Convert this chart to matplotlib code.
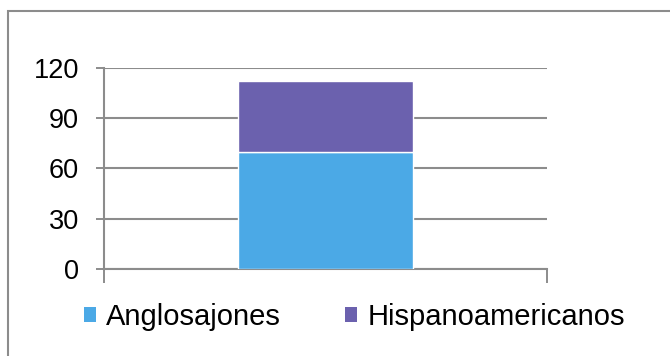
import matplotlib
matplotlib.use("Agg")
import matplotlib.pyplot as plt
from matplotlib.patches import Patch, Rectangle

plt.rcParams['font.family'] = ['Liberation Sans', 'DejaVu Sans']

categories = [""]
anglosajones = [70]
hispanoamericanos = [42]
series_names = ["Anglosajones", "Hispanoamericanos"]
colors = ["#4BA9E6", "#6B61AE"]
y_ticks = [0, 30, 60, 90, 120]
grid_color = "#8C8C8C"

fig = plt.figure(figsize=(6.7, 3.56), dpi=100)
ax = fig.add_axes([0.1552, 0.2444, 0.8164 - 0.1552, 0.8098 - 0.2444])

x = list(range(len(categories)))
ax.bar(x, anglosajones, width=0.395, color=colors[0], edgecolor="white", linewidth=1, zorder=3)
ax.bar(x, hispanoamericanos, width=0.395, bottom=anglosajones, color=colors[1],
       edgecolor="white", linewidth=1, zorder=3)

ax.set_xlim(-0.5, 0.5)
ax.set_ylim(0, 120)
ax.set_yticks(y_ticks)
ax.set_xticks([-0.5, 0.5])
ax.set_xticklabels([])
ax.tick_params(axis='y', length=6, width=1.4, color=grid_color, labelsize=19.5, pad=12)
ax.tick_params(axis='x', length=10, width=1.4, color=grid_color)
ax.yaxis.grid(True, color=grid_color, linewidth=1.5, zorder=0)
ax.set_axisbelow(True)
for s in ['top', 'right']:
    ax.spines[s].set_visible(False)
for s in ['left', 'bottom']:
    ax.spines[s].set_color(grid_color)
    ax.spines[s].set_linewidth(1.5)

handles = [Patch(facecolor=c, edgecolor='none') for c in colors]
ax.legend(handles, series_names, loc='center left', bbox_to_anchor=(-0.0455, -0.24),
          ncol=2, frameon=False, fontsize=21, handlelength=0.42, handleheight=0.42,
          handletextpad=0.34, columnspacing=2.2, borderaxespad=0, borderpad=0)

fig.add_artist(Rectangle((8 / 670, -0.2), 1.2, 0.9705 + 0.2, transform=fig.transFigure,
                         fill=False, edgecolor=grid_color, linewidth=1.5, clip_on=False))

fig.savefig("out.png", dpi=100)
